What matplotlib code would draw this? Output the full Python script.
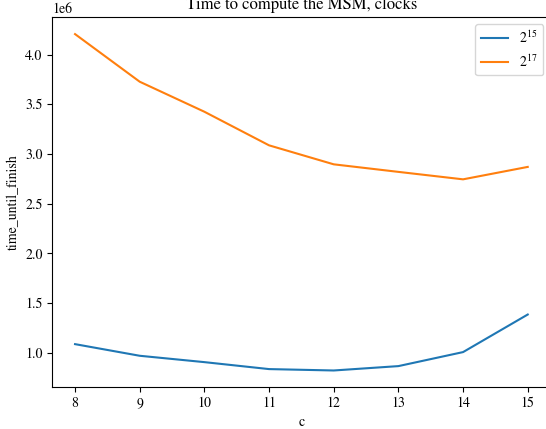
import matplotlib
matplotlib.use("Agg")
import matplotlib.pyplot as plt

plt.rcParams['font.family'] = ['STIXGeneral', 'Liberation Serif', 'DejaVu Serif']
plt.rcParams['mathtext.fontset'] = 'stix'

# window size c and measured clocks for two MSM sizes
c = [8, 9, 10, 11, 12, 13, 14, 15]
t_2_15 = [1.087e6, 0.970e6, 0.906e6, 0.836e6, 0.822e6, 0.866e6, 1.007e6, 1.385e6]
t_2_17 = [4.206e6, 3.727e6, 3.425e6, 3.087e6, 2.896e6, 2.820e6, 2.745e6, 2.870e6]

fig = plt.figure(figsize=(5.46, 4.29), dpi=100)
ax = fig.add_axes([0.096, 0.0972, 0.912, 0.8625])

ax.plot(c, t_2_15, label='$2^{15}$')
ax.plot(c, t_2_17, label='$2^{17}$')

ax.set_title('Time to compute the MSM, clocks')
ax.set_xlabel('c')
ax.set_ylabel('time_until_finish')
ax.legend(loc='upper right')
# right edge of the axes falls outside the cropped picture
ax.spines['right'].set_visible(False)

fig.savefig('out.png', dpi=100)
